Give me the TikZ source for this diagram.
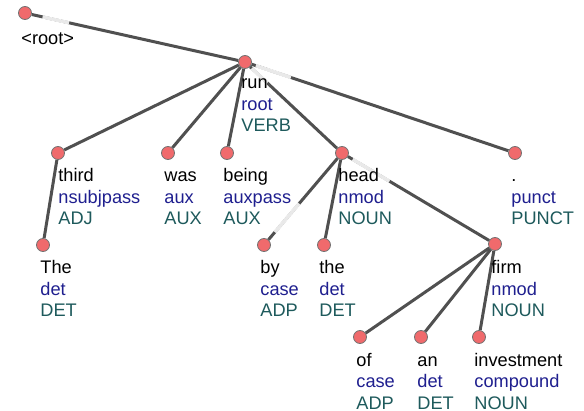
\documentclass[tikz,border=0pt]{standalone}
\usepackage{fontspec}
\setmainfont{Liberation Sans}
\usetikzlibrary{positioning,calc}
\definecolor{reln}{HTML}{1F1F8F}
\definecolor{posn}{HTML}{1E5A5C}
\definecolor{edgec}{HTML}{505050}
\definecolor{dotc}{HTML}{F06A6C}
\newcommand{\rl}[1]{\textcolor{reln}{#1}}
\newcommand{\ps}[1]{\textcolor{posn}{#1}}
\tikzset{font=\fontsize{9.1}{10.75}\selectfont}
\pgfdeclarelayer{bg}
\pgfsetlayers{bg,main}

\begin{document}
\begin{tikzpicture}[x=0.5pt,y=-0.5pt]
	\useasboundingbox (0,0) rectangle (584,411);
	\begin{scope}
		\tikzstyle{tok}=[circle, draw=edgec!80, fill=dotc, line width=0.4pt, minimum size=6.5pt, inner sep=0pt]
		\tikzstyle{lbl}=[anchor=base west, align=left, inner sep=0pt]
		\tikzstyle{dep}=[draw=edgec, line width=1.5pt]
		\tikzstyle{faded}=[draw=white, opacity=0.88, line width=1.7pt]
		% words
		\node[tok] (root) at (25, 13) {};
		\node[tok] (run) at (245, 62) {};
		\node[tok] (third) at (58, 153) {};
		\node[tok] (was) at (168, 153) {};
		\node[tok] (being) at (227, 153) {};
		\node[tok] (head) at (342, 153) {};
		\node[tok] (punct) at (515, 153) {};
		\node[tok] (the1) at (43, 245) {};
		\node[tok] (by) at (264, 245) {};
		\node[tok] (the2) at (324, 245) {};
		\node[tok] (firm) at (495, 244) {};
		\node[tok] (of) at (360, 337) {};
		\node[tok] (an) at (421, 337) {};
		\node[tok] (invest) at (479, 337) {};

		% labels (base = last line)
		\node[lbl] (root-l) at (21, 45) {<root>};
		\node[lbl] (run-l) at (241, 132) {run\\\rl{root}\\\ps{VERB}};
		\node[lbl] (third-l) at (58, 225) {third\\\rl{nsubjpass}\\\ps{ADJ}};
		\node[lbl] (was-l) at (164, 225) {was\\\rl{aux}\\\ps{AUX}};
		\node[lbl] (being-l) at (223, 225) {being\\\rl{auxpass}\\\ps{AUX}};
		\node[lbl] (head-l) at (338, 225) {head\\\rl{nmod}\\\ps{NOUN}};
		\node[lbl] (punct-l) at (511, 225) {.\\\rl{punct}\\\ps{PUNCT}};
		\node[lbl] (the1-l) at (40, 317) {The\\\rl{det}\\\ps{DET}};
		\node[lbl] (by-l) at (260, 317) {by\\\rl{case}\\\ps{ADP}};
		\node[lbl] (the2-l) at (319, 317) {the\\\rl{det}\\\ps{DET}};
		\node[lbl] (firm-l) at (491, 317) {firm\\\rl{nmod}\\\ps{NOUN}};
		\node[lbl] (of-l) at (356, 409) {of\\\rl{case}\\\ps{ADP}};
		\node[lbl] (an-l) at (417, 409) {an\\\rl{det}\\\ps{DET}};
		\node[lbl] (invest-l) at (474, 409) {investment\\\rl{compound}\\\ps{NOUN}};

		% arcs
		\begin{pgfonlayer}{bg}
		\fill[white] (0,0) rectangle (584,411);
		\draw[dep] (root) -- (run);
		\draw[dep] (run) -- (third);
		\draw[dep] (run) -- (was);
		\draw[dep] (run) -- (being);
		\draw[dep] (run) -- (head);
		\draw[dep] (run) -- (punct);
		\draw[dep] (third) -- (the1);
		\draw[dep] (head) -- (by);
		\draw[dep] (head) -- (the2);
		\draw[dep] (head) -- (firm);
		\draw[dep] (firm) -- (of);
		\draw[dep] (firm) -- (an);
		\draw[dep] (firm) -- (invest);
		% washed-out bits
		\draw[faded] ($(root)!0.08!(run)$) -- ($(root)!0.2!(run)$);
		\draw[faded] ($(run)!0.04!(punct)$) -- ($(run)!0.17!(punct)$);
		\draw[faded] ($(run)!0.07!(head)$) -- ($(run)!0.23!(head)$);
		\draw[faded] ($(head)!0.07!(firm)$) -- ($(head)!0.31!(firm)$);
		\draw[faded] ($(head)!0.55!(by)$) -- ($(head)!0.86!(by)$);
		\end{pgfonlayer}
	\end{scope}
\end{tikzpicture}
\end{document}
